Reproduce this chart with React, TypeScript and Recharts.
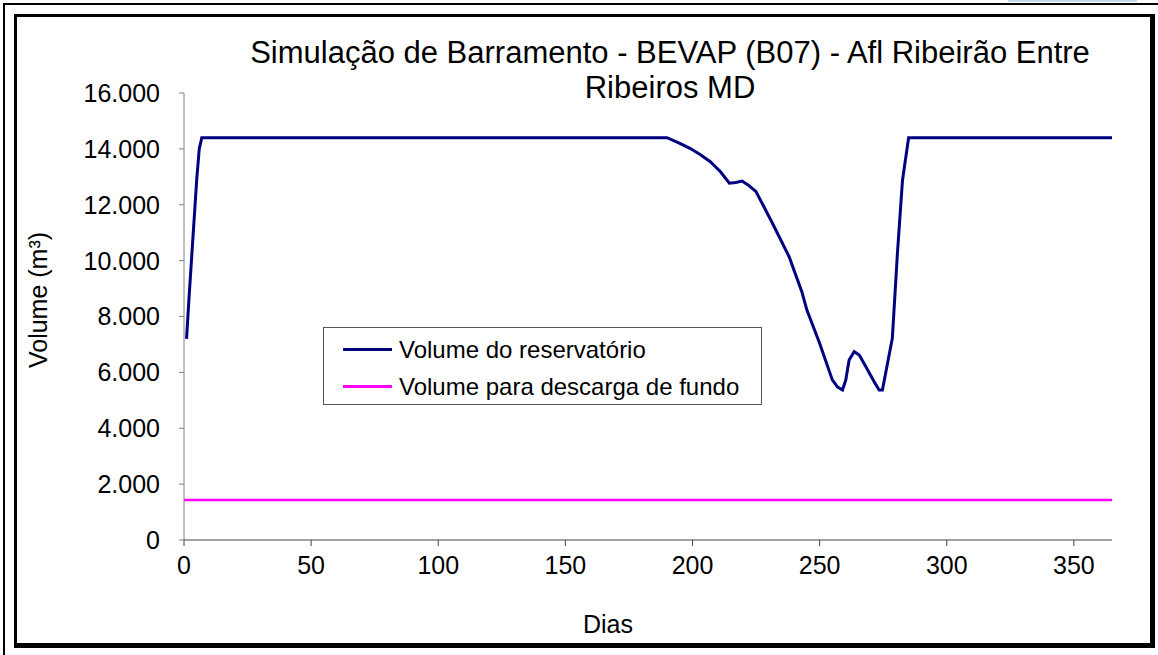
import { LineChart, Line, XAxis, YAxis, Legend } from "recharts";

const dias = [
  1, 2, 3, 4, 5, 6, 7, 190, 195, 199, 203, 207, 211, 214.5, 217, 219.5, 222,
  225, 231.5, 238, 243, 245, 250, 255, 257, 259, 260.3, 261.6, 263.6, 265.6,
  268.2, 271.4, 273.4, 274.7, 276.7, 278.6, 280.6, 282.6, 285, 365,
];
const volumeReservatorio = [
  7200, 8700, 10100, 11500, 12900, 14000, 14400, 14400, 14200, 14020, 13800,
  13540, 13180, 12770, 12800, 12850, 12700, 12470, 11330, 10140, 8890, 8230,
  7040, 5730, 5480, 5370, 5730, 6440, 6740, 6620, 6200, 5670, 5370, 5370, 6320,
  7220, 10260, 12880, 14400, 14400,
];
const diasFundo = [0, 365];
const volumeFundo = [1430, 1430];

const xTicks = [0, 50, 100, 150, 200, 250, 300, 350];
const yTicks = [0, 2000, 4000, 6000, 8000, 10000, 12000, 14000, 16000];

const seriesNames = ["Volume do reservatório", "Volume para descarga de fundo"];
const seriesColors = ["#000080", "#FF00FF"];

const FONT = "'Liberation Sans', Arial, sans-serif";

const reservatorioData = dias.map((d, i) => ({ dia: d, volume: volumeReservatorio[i] }));
const fundoData = diasFundo.map((d, i) => ({ dia: d, volume: volumeFundo[i] }));

// 14000 -> "14.000"
const fmt = (v: number) => String(v).replace(/\B(?=(\d{3})+(?!\d))/g, ".");

function LegendBox() {
  return (
    <div
      style={{
        width: 437,
        height: 76,
        border: "1px solid #555",
        background: "#fff",
        fontFamily: FONT,
        fontSize: 24,
        color: "#000",
      }}
    >
      {seriesNames.map((name, i) => (
        <div
          key={name}
          style={{
            display: "flex",
            alignItems: "center",
            height: 37,
            marginTop: i === 0 ? 3 : 0,
          }}
        >
          <div
            style={{
              width: 49,
              height: 3,
              background: seriesColors[i],
              marginLeft: 19,
              marginRight: 7,
            }}
          />
          <span>{name}</span>
        </div>
      ))}
    </div>
  );
}

export default function App() {
  return (
    <div
      style={{
        position: "absolute",
        left: 0,
        top: 0,
        width: 1158,
        height: 655,
        background: "#fff",
        overflow: "hidden",
      }}
    >
      {/* outer page frame */}
      <div style={{ position: "absolute", left: 3, top: 3, width: 1155, height: 2, background: "#000" }} />
      <div style={{ position: "absolute", left: 3, top: 3, width: 2, height: 652, background: "#000" }} />
      <div
        style={{
          position: "absolute",
          left: 1008,
          top: 0,
          width: 129,
          height: 2,
          background: "#c6d9f1",
        }}
      />
      {/* chart area frame */}
      <div
        style={{
          position: "absolute",
          left: 14,
          top: 14,
          width: 1141,
          height: 634,
          borderLeft: "3px solid #000",
          borderTop: "3px solid #000",
          borderRight: "5px solid #000",
          borderBottom: "5px solid #000",
          boxSizing: "border-box",
        }}
      />

      <div style={{ position: "absolute", left: 0, top: 0 }}>
        <LineChart
          width={1158}
          height={655}
          margin={{ top: 93, right: 46, bottom: 85, left: 124 }}
        >
          <XAxis
            dataKey="dia"
            type="number"
            domain={[0, 365]}
            ticks={xTicks}
            height={30}
            tickSize={6}
            tickMargin={10}
            stroke="#444"
            tick={{ fill: "#000", fontSize: 25, fontFamily: FONT }}
            allowDuplicatedCategory={false}
          />
          <YAxis
            type="number"
            domain={[0, 16000]}
            ticks={yTicks}
            width={60}
            tickSize={5}
            tickMargin={19}
            stroke="#808080"
            tickFormatter={fmt}
            tick={{ fill: "#000", fontSize: 25, fontFamily: FONT }}
          />
          <Legend
            layout="vertical"
            align="center"
            verticalAlign="middle"
            content={() => <LegendBox />}
            wrapperStyle={{ left: 323, top: 327, width: 439 }}
          />
          <Line
            data={reservatorioData}
            dataKey="volume"
            name={seriesNames[0]}
            type="linear"
            stroke={seriesColors[0]}
            strokeWidth={3}
            dot={false}
            isAnimationActive={false}
          />
          <Line
            data={fundoData}
            dataKey="volume"
            name={seriesNames[1]}
            type="linear"
            stroke={seriesColors[1]}
            strokeWidth={2.5}
            dot={false}
            isAnimationActive={false}
          />
        </LineChart>
      </div>

      {/* title */}
      <div
        style={{
          position: "absolute",
          left: 170,
          top: 35,
          width: 1000,
          textAlign: "center",
          fontFamily: FONT,
          fontSize: 31,
          lineHeight: "35px",
          color: "#000",
        }}
      >
        Simulação de Barramento - BEVAP (B07) - Afl Ribeirão Entre
        <br />
        Ribeiros MD
      </div>

      {/* axis titles */}
      <div
        style={{
          position: "absolute",
          left: 38,
          top: 300,
          transform: "translate(-50%, -50%) rotate(-90deg)",
          fontFamily: FONT,
          fontSize: 25,
          whiteSpace: "nowrap",
          color: "#000",
        }}
      >
        Volume (m³)
      </div>
      <div
        style={{
          position: "absolute",
          left: 608,
          top: 624,
          transform: "translate(-50%, -50%)",
          fontFamily: FONT,
          fontSize: 25,
          color: "#000",
        }}
      >
        Dias
      </div>
    </div>
  );
}
